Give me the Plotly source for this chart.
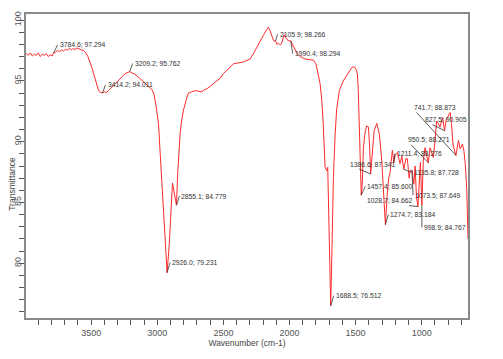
import plotly.graph_objects as go

# Spectrum (wavenumber cm-1, transmittance %)
wavenumber = [3993, 3975, 3960, 3945, 3930, 3915, 3900, 3885, 3870, 3855, 3840, 3825, 3810, 3795,
              3784.6, 3770, 3755, 3740, 3725, 3710, 3695, 3680, 3665, 3650, 3635, 3620, 3605, 3590,
              3575, 3558, 3540, 3525, 3510, 3495, 3482, 3468, 3455, 3445, 3430, 3414.2, 3400, 3385,
              3369, 3340, 3306, 3270, 3243, 3225, 3209.2, 3190, 3170, 3142, 3110, 3092, 3060, 3041,
              3025, 3010, 2991, 2975, 2966, 2950, 2941, 2926.0, 2910, 2900, 2885, 2875, 2868, 2855.1,
              2845, 2835, 2827, 2815, 2802, 2780, 2764, 2740, 2714, 2690, 2663, 2640, 2625, 2600,
              2575, 2550, 2525, 2500, 2474, 2450, 2424, 2400, 2380, 2349, 2320, 2298, 2270, 2247,
              2230, 2210, 2195, 2185, 2170, 2160, 2150, 2134, 2120, 2105.9, 2095, 2084, 2070, 2059,
              2050, 2041, 2030, 2021, 2010, 1990.4, 1970, 1945, 1920, 1882, 1850, 1819, 1800, 1794,
              1780, 1769, 1756, 1745, 1731, 1718, 1711, 1701, 1688.5, 1678, 1668, 1655, 1643, 1623,
              1593, 1570, 1555, 1540, 1529, 1515, 1504, 1495, 1487, 1480, 1474, 1466, 1457.4, 1450,
              1441, 1428, 1416, 1403, 1395, 1386.6, 1378, 1368, 1360, 1340, 1320, 1302, 1290, 1274.7,
              1262, 1250, 1240, 1230, 1222, 1211.4, 1200, 1184, 1164, 1150, 1135.8, 1120, 1109, 1095,
              1088, 1073.5, 1060, 1050, 1040, 1028.7, 1018, 1010, 998.9, 988, 975, 962, 950.5, 937,
              925, 912, 900, 887, 875, 862, 842, 827.5, 815, 805, 785, 775, 764, 741.7, 730, 722,
              709, 692, 680, 671, 659, 650]
transmittance = [97.25, 97.1, 97.3, 97.05, 97.2, 97.1, 97.3, 97.0, 97.2, 97.1, 97.25, 97.0, 97.15, 97.05,
                 97.29, 97.35, 97.5, 97.4, 97.55, 97.45, 97.6, 97.5, 97.7, 97.55, 97.65, 97.6, 97.7, 97.6,
                 97.55, 97.5, 97.3, 97.0, 96.6, 96.1, 95.6, 95.1, 94.6, 94.25, 94.05, 94.01, 94.1, 94.05,
                 94.2, 94.5, 94.9, 95.3, 95.6, 95.7, 95.76, 95.65, 95.55, 95.3, 95.0, 94.85, 94.5, 94.3,
                 93.9, 93.0, 91.5, 88.5, 86.2, 83.5, 81.8, 79.23, 81.5, 83.5, 86.6, 86.0, 85.6, 84.78,
                 87.5, 89.3, 90.7, 91.8, 92.6, 93.5, 94.0, 94.1, 94.2, 94.15, 94.1, 94.3, 94.35, 94.55,
                 94.8, 95.0, 95.2, 95.6, 95.87, 96.1, 96.4, 96.45, 96.5, 96.55, 96.7, 96.8, 97.3, 97.8,
                 98.1, 98.5, 98.8, 99.0, 99.2, 99.4, 99.2, 98.8, 98.3, 98.27, 98.0, 98.1, 97.95, 98.1,
                 98.4, 98.8, 98.6, 98.5, 98.3, 98.29, 97.8, 97.3, 97.0, 96.8, 96.75, 96.7, 96.4, 96.1,
                 95.5, 94.8, 93.4, 91.5, 87.9, 87.6, 87.9, 82.4, 76.51, 81.6, 87.05, 90.6, 92.7, 94.2,
                 95.0, 95.4, 95.7, 95.95, 96.1, 96.15, 96.1, 95.9, 95.6, 94.3, 92.0, 88.0, 85.6, 86.5,
                 89.5, 90.8, 91.3, 91.2, 89.8, 87.34, 88.7, 90.0, 90.9, 91.5, 90.6, 88.4, 86.0, 83.18,
                 85.5, 87.0, 87.4, 88.5, 89.3, 88.28, 88.9, 89.1, 88.2, 88.8, 87.73, 88.6, 88.6, 87.0,
                 87.6, 87.65, 86.5, 88.0, 85.5, 84.66, 87.5, 88.3, 84.77, 88.4, 89.5, 88.8, 88.27, 89.5,
                 89.0, 88.7, 90.0, 91.7, 91.5, 91.2, 92.0, 90.9, 91.8, 92.0, 92.4, 91.5, 89.8, 88.87, 89.7, 90.1,
                 89.4, 89.8, 89.2, 88.2, 86.0, 82.0]

# Picked peaks
peak_wn = [3784.6, 3414.2, 3209.2, 2926.0, 2855.1, 2105.9, 1990.4, 1688.5, 1386.6, 1457.4,
           1028.7, 1274.7, 1073.5, 998.9, 1135.8, 1211.4, 950.5, 827.5, 741.7]
peak_t = [97.294, 94.011, 95.762, 79.231, 84.779, 98.266, 98.294, 76.512, 87.341, 85.600,
          84.662, 83.184, 87.649, 84.767, 87.728, 88.276, 88.271, 90.905, 88.873]
peak_text = ["3784.6; 97.294", "3414.2; 94.011", "3209.2; 95.762", "2926.0; 79.231",
             "2855.1; 84.779", "2105.9; 98.266", "1990.4; 98.294", "1688.5; 76.512",
             "1386.6; 87.341", "1457.4; 85.600", "1028.7; 84.662", "1274.7; 83.184",
             "1073.5; 87.649", "998.9; 84.767", "1135.8; 87.728", "1211.4; 88.276",
             "950.5; 88.271", "827.5; 90.905", "741.7; 88.873"]
# label offsets in pixels (text left edge / middle relative to the peak)
label_dx = [4, 3, 3, 3, 3, 2, 2, 3, -23, 4, -53, 3, 1, 0, 8, 1, -22, -22, -44]
label_dy = [-8, -8, -8, -10, -9, -7, 13, -10, -10, -9, -6, -10, 25, 22, 3, -9, -23, -11, -48]

fig = go.Figure()
fig.add_trace(go.Scatter(x=wavenumber, y=transmittance, mode="lines",
                         line=dict(color="#ff2a2a", width=1), showlegend=False,
                         hoverinfo="skip"))

for wn, t, txt, dx, dy in zip(peak_wn, peak_t, peak_text, label_dx, label_dy):
    fig.add_annotation(x=wn, y=t, text=txt, showarrow=True, ax=dx, ay=dy,
                       xanchor="left", yanchor="middle",
                       arrowhead=0, arrowwidth=0.8, arrowcolor="#333333",
                       font=dict(family="Arial, Liberation Sans", size=6.8, color="#333333"))

fig.add_annotation(x=-0.0305, y=0.44, xref="paper", yref="paper", xanchor="center",
                   yanchor="middle", text="Transmittance", textangle=-90, showarrow=False,
                   font=dict(family="Arial, Liberation Sans", size=8.5, color="#444444"))

axis_style = dict(showline=True, linecolor="#8a8a8a", linewidth=1.5, mirror=True,
                  showgrid=False, zeroline=False, ticks="outside", ticklen=5,
                  tickcolor="#555555", tickwidth=1, automargin=False,
                  tickfont=dict(family="Arial, Liberation Sans", size=9, color="#555555"))

fig.update_xaxes(range=[3993, 650], tickmode="array", tickvals=[3500, 3000, 2500, 2000, 1500, 1000],
                 minor=dict(dtick=100, tick0=0, ticks="outside", ticklen=5, tickcolor="#555555"),
                 title=dict(text="Wavenumber (cm-1)", standoff=4,
                            font=dict(family="Arial, Liberation Sans", size=8.5, color="#444444")),
                 **axis_style)
fig.update_yaxes(range=[75.5, 100.5], tickvals=[80, 85, 90, 95, 100], tickangle=-90,
                 minor=dict(dtick=1, tick0=0, ticks="outside", ticklen=5, tickcolor="#555555"),
                 ticklabelstandoff=-5,
                 **axis_style)

fig.update_layout(width=487, height=343, margin=dict(l=18, r=27, t=6, b=33, autoexpand=False),
                  paper_bgcolor="white", plot_bgcolor="white")

fig.write_html("out.html")
